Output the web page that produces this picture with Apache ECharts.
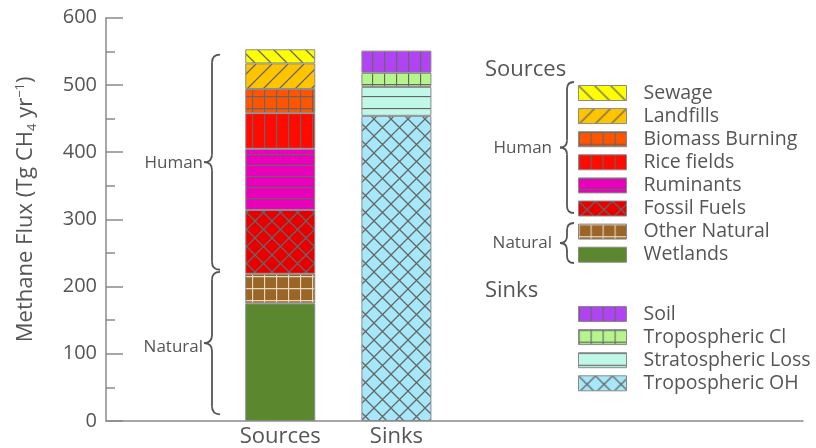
<!DOCTYPE html>
<html>
<head>
<meta charset="utf-8">
<script src="https://cdn.jsdelivr.net/npm/echarts@6/dist/echarts.min.js"></script>
<style>
  html, body { margin: 0; padding: 0; background: #fff; }
  #chart { width: 816px; height: 448px; }
</style>
</head>
<body>
<div id="chart"></div>
<script>
// categories on the x axis (blank bands keep room for the legend)
const categories = ['', 'Sources', 'Sinks', '', '', ''];

// sources, stacked bottom -> top (Tg CH4 / yr)
const sourceNames = ['Wetlands', 'Other Natural', 'Fossil Fuels', 'Ruminants', 'Rice fields', 'Biomass Burning', 'Landfills', 'Sewage'];
const sourceValues = [175, 44, 95, 91, 53, 36, 38, 21];

// sinks, stacked bottom -> top
const sinkNames = ['Tropospheric OH', 'Stratospheric Loss', 'Tropospheric Cl', 'Soil'];
const sinkValues = [454, 43, 21, 33];

const yTicks = [0, 100, 200, 300, 400, 500, 600];

// brace ranges in data units
const humanRange = [225, 545];
const naturalRange = [10, 222];

const font = '"Open Sans", "DejaVu Sans", sans-serif';
const textColor = '#555';
const lineGray = '#666';

// pattern tiles
const tile = function (bg, size, draw, stroke) {
    let c = document.createElement('canvas');
    c.width = size; c.height = size;
    let g = c.getContext('2d');
    g.fillStyle = bg;
    g.fillRect(0, 0, size, size);
    g.strokeStyle = stroke || lineGray;
    g.lineWidth = 1.3;
    g.beginPath();
    draw(g, size);
    g.stroke();
    return { image: c, repeat: 'repeat' };
}
const back = (g, s) => { for (let k of [-s, 0, s]) { g.moveTo(k, 0); g.lineTo(k + s, s); } };
const fwd = (g, s) => { for (let k of [-s, 0, s]) { g.moveTo(k, s); g.lineTo(k + s, 0); } };
const vert = (g, s) => { g.moveTo(0.5, 0); g.lineTo(0.5, s); };
const horiz = (g, s) => { g.moveTo(0, 0.5); g.lineTo(s, 0.5); };
const grid = (g, s) => { vert(g, s); horiz(g, s); };
const diamond = (g, s) => { back(g, s); fwd(g, s); };

const styles = {
    'Sewage': tile('#ffff00', 16, back),
    'Landfills': tile('#ffc400', 16, fwd),
    'Biomass Burning': tile('#ff5500', 12, grid),
    'Rice fields': tile('#ff0a00', 12, vert),
    'Ruminants': tile('#e800bb', 11, horiz),
    'Fossil Fuels': tile('#e80000', 17, diamond),
    'Other Natural': tile('#9a6628', 12, grid, '#e8d8c0'),
    'Wetlands': '#5b872e',
    'Soil': tile('#b044f2', 12, vert),
    'Tropospheric Cl': tile('#b6f58e', 12, grid),
    'Stratospheric Loss': tile('#c0f8e8', 12, horiz),
    'Tropospheric OH': tile('#a6e8fa', 17, diamond)
};

const makeSeries = (names, values, cat) => names.map((n, i) => ({
    name: n,
    type: 'bar',
    stack: 'flux',
    barWidth: 70,
    data: [[cat, values[i]]],
    itemStyle: { color: styles[n], borderColor: '#8a8a8a', borderWidth: 1 },
    emphasis: { disabled: true }
}));

const legendCommon = {
    orient: 'vertical',
    left: 578,
    padding: 0,
    itemWidth: 48,
    itemHeight: 15,
    itemGap: 3.1,
    icon: 'rect',
    selectedMode: false,
    itemStyle: { borderColor: '#8a8a8a', borderWidth: 1 },
    textStyle: { fontFamily: font, fontSize: 19.5, color: textColor, lineHeight: 19, padding: [0, 0, 0, 12] }
};

let myChart = echarts.init(document.getElementById('chart'));
myChart.setOption({
    animation: false,
    grid: { left: 106, right: 13, top: 17.7, bottom: 26.5 },
    xAxis: {
        type: 'category',
        data: categories,
        axisLine: { lineStyle: { color: '#8a8a8a', width: 1.5 } },
        axisTick: { show: false },
        axisLabel: { fontFamily: font, fontSize: 22, color: textColor, margin: 5 }
    },
    yAxis: {
        type: 'value',
        min: yTicks[0],
        max: yTicks[yTicks.length - 1],
        interval: 100,
        name: '{a|Methane Flux (Tg CH}{s|4}{a| yr}{p|\u22121}{a|)}',
        nameLocation: 'middle',
        nameGap: 66,
        nameTextStyle: {
            padding: [0, 0, 0, 20],
            rich: {
                a: { fontFamily: font, fontSize: 22, color: textColor, lineHeight: 28 },
                s: { fontFamily: font, fontSize: 13, color: textColor, lineHeight: 28, padding: [13, 0, 0, 0] },
                p: { fontFamily: font, fontSize: 13, color: textColor, lineHeight: 28, padding: [0, 0, 11, 0] }
            }
        },
        axisLine: { show: true, lineStyle: { color: '#8a8a8a', width: 1.5 } },
        axisTick: { show: true, inside: true, length: 17, lineStyle: { color: '#8a8a8a', width: 1.5 } },
        minorTick: { show: true, splitNumber: 2, length: 9, lineStyle: { color: '#8a8a8a', width: 1.5 } },
        splitLine: { show: false },
        axisLabel: { fontFamily: font, fontSize: 20, color: textColor, margin: 9 }
    },
    legend: [
        Object.assign({ top: 83, data: sourceNames.slice().reverse() }, legendCommon),
        Object.assign({ top: 304, data: sinkNames.slice().reverse() }, legendCommon)
    ],
    series: makeSeries(sourceNames, sourceValues, 'Sources').concat(makeSeries(sinkNames, sinkValues, 'Sinks'))
});

// curly brace pointing left, vertical stem at x
const braceStyle = { stroke: '#555', lineWidth: 1.8, fill: 'none' };
const curve = (x1, y1, x2, y2, cx, cy) => ({ type: 'bezierCurve', silent: true, shape: { x1: x1, y1: y1, x2: x2, y2: y2, cpx1: cx, cpy1: cy }, style: braceStyle });
const seg = (x1, y1, x2, y2) => ({ type: 'line', silent: true, shape: { x1: x1, y1: y1, x2: x2, y2: y2 }, style: braceStyle });
const brace = (x, y1, y2, r) => {
    let m = (y1 + y2) / 2;
    return [
        curve(x + r, y1, x, y1 + r, x, y1),
        seg(x, y1 + r, x, m - r),
        curve(x, m - r, x - r, m, x, m),
        curve(x - r, m, x, m + r, x, m),
        seg(x, m + r, x, y2 - r),
        curve(x, y2 - r, x + r, y2, x, y2)
    ];
}
const label = (text, x, y, size, align) => ({
    type: 'text',
    x: x, y: y,
    silent: true,
    style: { text: text, fontFamily: font, fontSize: size, fill: textColor, align: align || 'right', verticalAlign: 'middle' }
});

const py = v => myChart.convertToPixel({ yAxisIndex: 0 }, v);
let h1 = py(humanRange[1]), h0 = py(humanRange[0]);
let n1 = py(naturalRange[1]), n0 = py(naturalRange[0]);

myChart.setOption({
    graphic: [].concat(
        brace(212, h1, h0, 8),
        [label('Human', 203, (h1 + h0) / 2 + 1, 17)],
        brace(212, n1, n0, 8),
        [label('Natural', 203, (n1 + n0) / 2 + 4, 17)],
        [label('Sources', 485, 70, 22, 'left'), label('Sinks', 485, 291, 22, 'left')],
        brace(567, 82, 213, 7),
        [label('Human', 552, 148, 17)],
        brace(567, 223, 263, 7),
        [label('Natural', 552, 243, 17)]
    )
});
</script>
</body>
</html>
